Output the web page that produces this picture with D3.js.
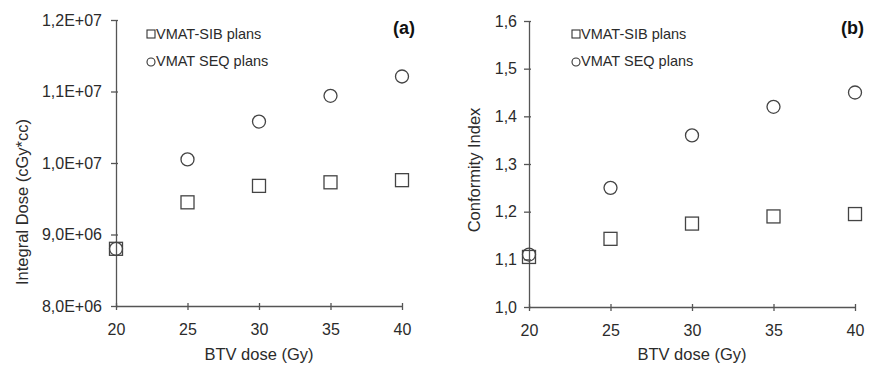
<!DOCTYPE html>
<html>
<head>
<meta charset="utf-8">
<script src="https://cdn.jsdelivr.net/npm/d3@7"></script>
<style>
  body { margin: 0; background: #fff; }
  svg text { font-family: "Liberation Sans", Arial, sans-serif; fill: #2b2b2b; }
  .axis path, .axis line { stroke: #555; stroke-width: 1.3; }
</style>
</head>
<body>
<div id="chart"></div>
<script>
// BTV dose categories (Gy)
var doses = [20, 25, 30, 35, 40];

// panel (a): integral dose (cGy*cc)
var sibDose = [8.8e6, 9.45e6, 9.68e6, 9.73e6, 9.76e6];
var seqDose = [8.8e6, 10.05e6, 10.58e6, 10.94e6, 11.21e6];
var doseTicks = [8e6, 9e6, 10e6, 11e6, 12e6];
var doseTickLabels = ["8,0E+06", "9,0E+06", "1,0E+07", "1,1E+07", "1,2E+07"];

// panel (b): conformity index
var sibCI = [1.105, 1.143, 1.175, 1.19, 1.195];
var seqCI = [1.11, 1.25, 1.36, 1.42, 1.45];
var ciTicks = [1.0, 1.1, 1.2, 1.3, 1.4, 1.5, 1.6];
var ciTickLabels = ["1,0", "1,1", "1,2", "1,3", "1,4", "1,5", "1,6"];

var seriesNames = ["VMAT-SIB plans", "VMAT SEQ plans"];

var svg = d3.select("#chart").append("svg")
  .attr("width", 875)
  .attr("height", 365);

function drawPanel(opt) {
  var g = svg.append("g").attr("transform", "translate(" + opt.left + ",0)");

  var x = d3.scaleLinear().domain([20, 40]).range([0, opt.width]);
  var y = d3.scaleLinear().domain(opt.yDomain).range([opt.bottom, opt.top]);

  // axes
  var xAxis = g.append("g")
    .attr("class", "axis")
    .attr("transform", "translate(0," + opt.bottom + ")")
    .call(d3.axisBottom(x).tickValues(doses).tickSize(4).tickSizeOuter(0).tickPadding(14));
  xAxis.selectAll("text").style("font-size", "16px");
  // excel-like ticks crossing the axis line
  xAxis.selectAll(".tick line").attr("y1", -3).attr("y2", 4);

  var yAxis = g.append("g")
    .attr("class", "axis")
    .call(d3.axisLeft(y).tickValues(opt.ticks).tickSize(5).tickSizeOuter(0).tickPadding(opt.yPad)
      .tickFormat(function(d, i) { return opt.tickLabels[i]; }));
  yAxis.selectAll("text").style("font-size", "16px");
  yAxis.selectAll(".tick line").attr("x1", 2).attr("x2", -5);

  // axis titles
  g.append("text")
    .attr("x", opt.width / 2)
    .attr("y", 360)
    .attr("text-anchor", "middle")
    .style("font-size", "16.5px")
    .text("BTV dose (Gy)");

  g.append("text")
    .attr("transform", "translate(" + opt.yTitleX + "," + opt.yTitleY + ") rotate(-90)")
    .attr("text-anchor", "middle")
    .style("font-size", "16.5px")
    .text(opt.yTitle);

  // panel letter
  g.append("text")
    .attr("x", opt.width + opt.letterDx)
    .attr("y", 34)
    .attr("text-anchor", "middle")
    .style("font-size", "18px")
    .style("font-weight", "bold")
    .style("fill", "#111")
    .text(opt.letter);

  // SEQ circles first, SIB squares on top
  g.selectAll(".seq")
    .data(doses)
    .enter().append("circle")
    .attr("class", "seq")
    .attr("cx", function(d) { return x(d); })
    .attr("cy", function(d, i) { return y(opt.seq[i]); })
    .attr("r", 6.5)
    .attr("fill", "none")
    .attr("stroke", "#444")
    .attr("stroke-width", 1.3);

  g.selectAll(".sib")
    .data(doses)
    .enter().append("rect")
    .attr("class", "sib")
    .attr("x", function(d) { return x(d) - 6.5; })
    .attr("y", function(d, i) { return y(opt.sib[i]) - 6.5; })
    .attr("width", 13)
    .attr("height", 13)
    .attr("fill", "none")
    .attr("stroke", "#444")
    .attr("stroke-width", 1.3);

  // legend
  var lg = g.append("g").attr("transform", "translate(" + opt.legendX + ",0)");
  lg.append("rect")
    .attr("x", -4).attr("y", 30)
    .attr("width", 8).attr("height", 8)
    .attr("fill", "none").attr("stroke", "#333").attr("stroke-width", 1.1);
  lg.append("circle")
    .attr("cx", 0).attr("cy", 62)
    .attr("r", 4)
    .attr("fill", "none").attr("stroke", "#333").attr("stroke-width", 1.1);
  lg.selectAll(".legtext")
    .data(seriesNames)
    .enter().append("text")
    .attr("class", "legtext")
    .attr("x", 5)
    .attr("y", function(d, i) { return 38.8 + i * 27.5; })
    .style("font-size", "14.5px")
    .text(function(d) { return d; });
}

drawPanel({
  left: 116, width: 286, top: 20, bottom: 306,
  yDomain: [8e6, 12e6], ticks: doseTicks, tickLabels: doseTickLabels, yPad: 9,
  sib: sibDose, seq: seqDose,
  yTitle: "Integral Dose (cGy*cc)", yTitleX: -88, yTitleY: 202,
  letter: "(a)", letterDx: 2, legendX: 35
});

drawPanel({
  left: 529, width: 326, top: 21, bottom: 307,
  yDomain: [1.0, 1.6], ticks: ciTicks, tickLabels: ciTickLabels, yPad: 7,
  sib: sibCI, seq: seqCI,
  yTitle: "Conformity Index", yTitleX: -49, yTitleY: 170,
  letter: "(b)", letterDx: -2.5, legendX: 47
});
</script>
</body>
</html>
